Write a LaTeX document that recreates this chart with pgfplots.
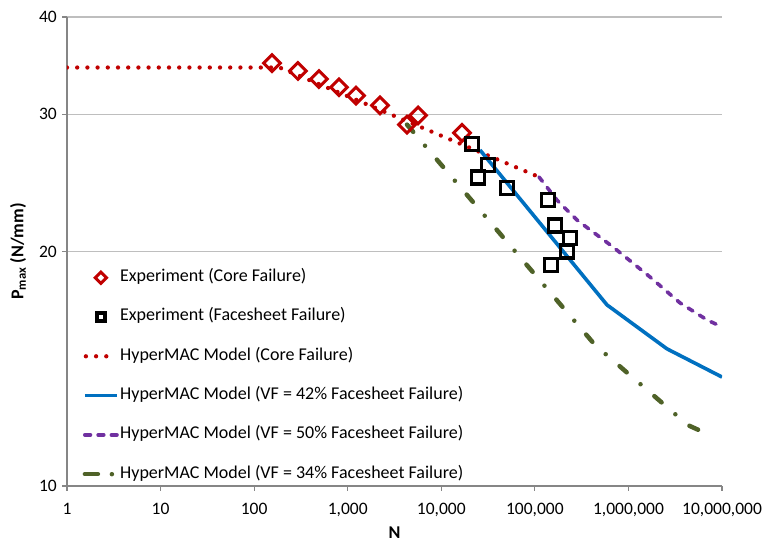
\documentclass[border=0pt]{standalone}
\usepackage{pgfplots}
\pgfplotsset{compat=1.18}
\usepackage{fontspec}
\setmainfont{Carlito}
\definecolor{cred}{HTML}{C00000}
\definecolor{cblue}{HTML}{0070C0}
\definecolor{cpurple}{HTML}{7030A0}
\definecolor{cgreen}{HTML}{4F6228}
\definecolor{axgray}{HTML}{868686}
\definecolor{gridgray}{HTML}{BEBEBE}
\pgfplotsset{
  marklegend/.style={legend image code/.code={\draw[mark repeat=2,mark phase=2,##1, mark size=4pt] plot coordinates {(0pt,0pt) (16pt,0pt) (32pt,0pt)};}},
  dotlegend/.style={legend image code/.code={\draw[##1, line width=4.3pt] (1pt,0pt) -- (22pt,0pt);}},
  linelegend/.style={legend image code/.code={\draw[##1, line width=3.8pt] (0pt,0pt) -- (32pt,0pt);}},
  dashdotlegend/.style={legend image code/.code={\draw[##1, line width=4.5pt, dash pattern=on 13pt off 14pt on 0pt off 10pt] (0pt,0pt) -- (32pt,0pt);}},
}
\begin{document}
\fontsize{17.5}{21}\selectfont
\begin{tikzpicture}
\begin{axis}[
  scale only axis, width=655pt, height=469pt,
  xmode=log, ymode=log, xmin=1, xmax=1e7, ymin=10, ymax=40,
  axis x line*=bottom, axis y line*=left,
  axis line style={draw=axgray, line width=1.1pt},
  xtick={1,10,100,1000,10000,100000,1000000,10000000},
  xticklabels={1,10,100,{1,000},{10,000},{100,000},{1,000,000},{10,000,000}},
  ytick={10,20,30,40}, yticklabels={10,20,30,40},
  xminorticks=false, yminorticks=false,
  tick align=outside, major tick length=5pt,
  tick style={draw=axgray, line width=1.1pt},
  ymajorgrids, grid style={draw=gridgray, line width=1.1pt},
  /pgf/number format/assume math mode=true,
  every tick label/.append style={font=\fontsize{17.5}{21}\selectfont},
  xticklabel style={anchor=north, inner sep=0pt, yshift=-12pt},
  yticklabel style={anchor=east, inner sep=0pt, xshift=-5pt},
  xlabel={\textbf{N}},
  ylabel={\textbf{P\textsubscript{max} (N/mm)}},
  label style={font=\fontsize{18}{21}\selectfont},
  xlabel style={at={(axis description cs:0.5,-0.1002)}, anchor=center},
  ylabel style={at={(axis description cs:-0.0748,0.5)}, anchor=center},
  legend cell align=left,
  legend style={at={(axis description cs:0.019,0.468)}, anchor=north west,
    draw=none, fill=none, font=\fontsize{18}{21}\selectfont,
    row sep=21.3pt, column sep=0pt,
    nodes={inner sep=1pt, text height=12pt, text depth=4pt}},
]
% Experiment (Core Failure)
\addplot[only marks, mark=square, mark size=5.9pt, mark options={rotate=45, draw=cred, line width=3pt}, marklegend]
coordinates {
(155,34.9) (294,34.1) (493,33.3) (807,32.5) (1227,31.7) (2214,30.8) (5640,29.9) (4300,29.1) (16650,28.4)
};
\addlegendentry{Experiment (Core Failure)}
% Experiment (Facesheet Failure)
\addplot[only marks, mark=square, mark size=6.5pt, mark options={draw=black, line width=3.3pt}, marklegend]
coordinates {
(21150,27.5) (31800,25.8) (24880,24.9) (50800,24.15) (139300,23.3) (164100,21.6) (237600,20.8) (222300,20.0) (147600,19.2)
};
\addlegendentry{Experiment (Facesheet Failure)}
% HyperMAC core
\addplot[cred, line width=4.3pt, line cap=round, dash pattern=on 0pt off 10.2pt, dotlegend]
coordinates { (1,34.45) (187,34.45) (110700,24.93) };
\addlegendentry{HyperMAC Model (Core Failure)}
% VF 42
\addplot[cblue, line width=3.6pt, line join=round, linelegend]
coordinates { (25900,27.0) (590000,17.08) (2580000,15.0) (10000000,13.8) };
\addlegendentry{HyperMAC Model (VF = 42\% Facesheet Failure)}
% VF 50
\addplot[cpurple, line width=3.6pt, line cap=round, line join=round, dash pattern=on 5.5pt off 7.8pt, linelegend]
coordinates { (110700,24.93) (172500,23.28) (282000,21.95) (684000,20.27) (1700000,18.55) (3560000,17.18) (6920000,16.34) (10000000,16.0) };
\addlegendentry{HyperMAC Model (VF = 50\% Facesheet Failure)}
% VF 34
\addplot[cgreen, line width=4.5pt, line cap=round, line join=round, dash pattern=on 9.5pt off 18.25pt on 0pt off 18.25pt, dashdotlegend]
coordinates { (4300,29.1) (440000,15.17) (4330000,11.97) (7820000,11.59) };
\addlegendentry{HyperMAC Model (VF = 34\% Facesheet Failure)}
\end{axis}
\pgfresetboundingbox
\path[use as bounding box] ([xshift=-67pt,yshift=-57pt]current axis.south west) rectangle ([xshift=40pt,yshift=17pt]current axis.north east);
\end{tikzpicture}
\end{document}
